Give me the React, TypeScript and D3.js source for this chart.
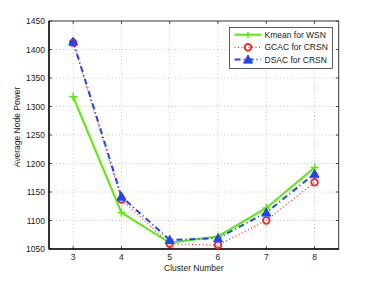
import React from "react";
import * as d3 from "d3";

const clusters = [3, 4, 5, 6, 7, 8];
const kmean = [1317, 1114, 1061, 1072, 1122, 1193];
const gcac = [1412, 1137, 1059, 1057, 1100, 1167];
const dsac = [1414, 1142, 1066, 1069, 1114, 1182];
const yTicks = [1050, 1100, 1150, 1200, 1250, 1300, 1350, 1400, 1450];
const seriesNames = ["Kmean for WSN", "GCAC for CRSN", "DSAC for CRSN"];

const W = 374, H = 281;
const L = 49, R = 338.7, T = 21, B = 249;
const FONT = "'Liberation Sans', Arial, Helvetica, sans-serif";

export default function App() {
  const x = d3.scaleLinear().domain([2.5, 8.5]).range([L, R]);
  const y = d3.scaleLinear().domain([1050, 1450]).range([B, T]);
  const line = (vals: number[]) =>
    d3.line<number>().x((_, i) => x(clusters[i])).y((d) => y(d))(vals) || "";

  const green = "#55ee00";
  const red = "#ff2020";
  const blue = "#2244ff";

  const plus = (cx: number, cy: number, s = 4, k?: any) => (
    <path key={k} d={`M${cx - s},${cy}H${cx + s}M${cx},${cy - s}V${cy + s}`} stroke={green} strokeWidth={1.5} fill="none" />
  );
  const circ = (cx: number, cy: number, k?: any) => (
    <circle key={k} cx={cx} cy={cy} r={3.3} fill="none" stroke={red} strokeWidth={1.8} />
  );
  const tri = (cx: number, cy: number, k?: any) => {
    const s = 4.5;
    return (
      <path key={k} d={`M${cx},${cy - s}L${cx + s},${cy + s * 0.8}L${cx - s},${cy + s * 0.8}Z`} fill={blue} stroke={blue} strokeWidth={1} />
    );
  };

  const legX = 229.5, legY = 27.5, legW = 103, legH = 41;
  const rows = [34.7, 47.3, 59.5];

  return (
    <svg width={W} height={H} style={{ position: "absolute", left: 0, top: 0, background: "#fff" }}>
      {/* grid */}
      {clusters.map((c) => (
        <line key={"gx" + c} x1={x(c)} x2={x(c)} y1={T} y2={B} stroke="#bbb" strokeWidth={0.8} strokeDasharray="1,2.5" />
      ))}
      {yTicks.slice(1, -1).map((t) => (
        <line key={"gy" + t} x1={L} x2={R} y1={y(t)} y2={y(t)} stroke="#bbb" strokeWidth={0.8} strokeDasharray="1,2.5" />
      ))}
      {/* ticks */}
      {clusters.map((c) => (
        <g key={"tx" + c}>
          <line x1={x(c)} x2={x(c)} y1={B} y2={B - 3} stroke="#222" strokeWidth={0.8} />
          <line x1={x(c)} x2={x(c)} y1={T} y2={T + 3} stroke="#222" strokeWidth={0.8} />
          <text x={x(c)} y={B + 11} textAnchor="middle" fontSize={8.5} fontFamily={FONT} fill="#222">{c}</text>
        </g>
      ))}
      {yTicks.map((t) => (
        <g key={"ty" + t}>
          <line x1={L} x2={L + 3} y1={y(t)} y2={y(t)} stroke="#222" strokeWidth={0.8} />
          <line x1={R} x2={R - 3} y1={y(t)} y2={y(t)} stroke="#222" strokeWidth={0.8} />
          <text x={L - 4} y={y(t) + 3} textAnchor="end" fontSize={8.5} fontFamily={FONT} fill="#222">{t}</text>
        </g>
      ))}
      <rect x={L} y={T} width={R - L} height={B - T} fill="none" stroke="#333" strokeWidth={1} />
      <line x1={L} x2={R} y1={B} y2={B} stroke="#111" strokeWidth={1.5} />
      <line x1={L} x2={L} y1={T} y2={B} stroke="#111" strokeWidth={1.5} />

      {/* series */}
      <path d={line(kmean)} fill="none" stroke={green} strokeWidth={2} />
      <path d={line(gcac)} fill="none" stroke={red} strokeWidth={1.2} strokeDasharray="1,2.5" />
      <path d={line(dsac)} fill="none" stroke={blue} strokeWidth={2} strokeDasharray="6,3,1,3" />
      {kmean.map((v, i) => plus(x(clusters[i]), y(v), 4, "k" + i))}
      {gcac.map((v, i) => circ(x(clusters[i]), y(v), "g" + i))}
      {dsac.map((v, i) => tri(x(clusters[i]), y(v), "d" + i))}

      {/* legend */}
      <rect x={legX} y={legY} width={legW} height={legH} fill="#fff" stroke="#333" strokeWidth={0.8} />
      <line x1={234.5} x2={261} y1={rows[0]} y2={rows[0]} stroke={green} strokeWidth={2} />
      {plus(248, rows[0], 3)}
      <line x1={234.5} x2={261} y1={rows[1]} y2={rows[1]} stroke={red} strokeWidth={1.2} strokeDasharray="1,2.5" />
      {circ(248, rows[1])}
      <line x1={234.5} x2={261} y1={rows[2]} y2={rows[2]} stroke={blue} strokeWidth={2} strokeDasharray="6,3,1,3" />
      {tri(248, rows[2])}
      {seriesNames.map((n, i) => (
        <text key={n} x={264.5} y={rows[i] + 3} fontSize={8.5} fontFamily={FONT} fill="#222">{n}</text>
      ))}

      {/* axis labels */}
      <text x={(L + R) / 2} y={271} textAnchor="middle" fontSize={8.5} fontFamily={FONT} fill="#222">Cluster Number</text>
      <text transform={`translate(20,127) rotate(-90)`} textAnchor="middle" fontSize={8.5} fontFamily={FONT} fill="#222">Average Node Power</text>
    </svg>
  );
}
